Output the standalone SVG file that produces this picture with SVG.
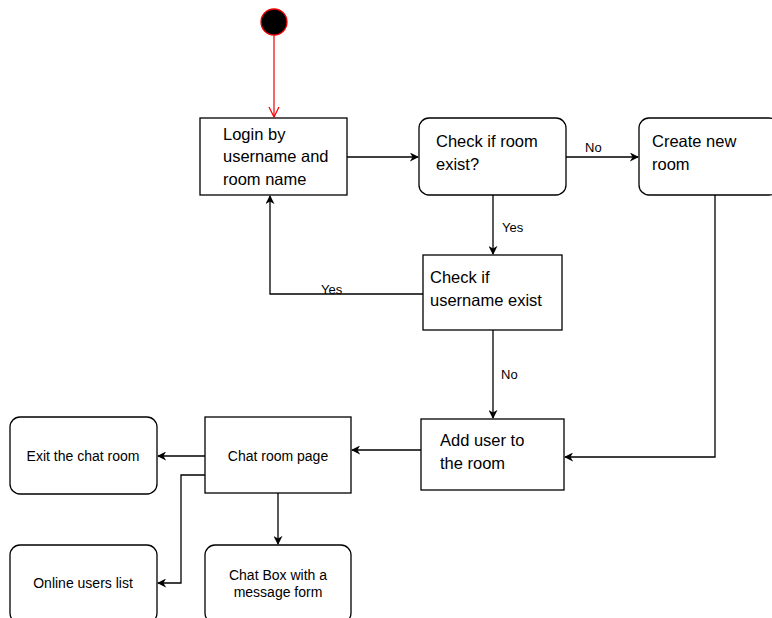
<svg xmlns="http://www.w3.org/2000/svg" width="772" height="618" viewBox="0 0 772 618">
<style>
.box{fill:#fff;stroke:#000;stroke-width:1.3}
.t{font-family:"Liberation Sans",Arial,sans-serif;font-size:16.5px;fill:#000}
.s{font-family:"Liberation Sans",Arial,sans-serif;font-size:14px;fill:#000;text-anchor:middle}
.l{font-family:"Liberation Sans",Arial,sans-serif;font-size:13px;fill:#000}
.c{fill:none;stroke:#000;stroke-width:1.3}
</style>
<defs>
<marker id="a" viewBox="0 0 10 10" refX="9" refY="5" markerWidth="9" markerHeight="9" markerUnits="userSpaceOnUse" orient="auto">
<path d="M0,0 L10,5 L0,10 L3,5 z" fill="#000"/>
</marker>
<marker id="r" viewBox="0 0 12 12" refX="11" refY="6" markerWidth="12" markerHeight="12" markerUnits="userSpaceOnUse" orient="auto">
<path d="M1,1 L11,6 L1,11" fill="none" stroke="#e00" stroke-width="1.2"/>
</marker>
</defs>
<rect width="772" height="618" fill="#fff"/>
<g id="start"><circle cx="274" cy="22" r="13" fill="#000" stroke="#e00" stroke-width="1.3"/></g>
<g id="login"><rect class="box" x="200" y="118" width="147" height="77"/>
<text class="t" x="223" y="140">Login by</text><text class="t" x="223" y="162">username and</text><text class="t" x="223" y="185">room name</text></g>
<g id="checkroom"><rect class="box" x="419" y="118" width="147" height="77" rx="10"/>
<text class="t" x="436" y="147">Check if room</text><text class="t" x="436" y="170">exist?</text></g>
<g id="createroom"><rect class="box" x="639" y="118" width="140" height="77" rx="10"/>
<text class="t" x="652" y="147">Create new</text><text class="t" x="652" y="170">room</text></g>
<g id="checkuser"><rect class="box" x="423" y="255" width="139" height="75"/>
<text class="t" x="430" y="283">Check if</text><text class="t" x="430" y="306">username exist</text></g>
<g id="adduser"><rect class="box" x="421" y="419" width="143" height="71"/>
<text class="t" x="440" y="446">Add user to</text><text class="t" x="440" y="469">the room</text></g>
<g id="chatpage"><rect class="box" x="205" y="417" width="146" height="76"/>
<text class="s" x="278" y="461">Chat room page</text></g>
<g id="exit"><rect class="box" x="10" y="417" width="147" height="77" rx="10"/>
<text class="s" x="83" y="461">Exit the chat room</text></g>
<g id="online"><rect class="box" x="10" y="545" width="147" height="78" rx="10"/>
<text class="s" x="83" y="588">Online users list</text></g>
<g id="chatbox"><rect class="box" x="205" y="545" width="146" height="78" rx="10"/>
<text class="s" x="278" y="580">Chat Box with a</text><text class="s" x="278" y="597">message form</text></g>
<g id="connectors">
<line x1="274" y1="35" x2="274" y2="117" stroke="#e00" stroke-width="1.2" marker-end="url(#r)"/>
<line class="c" x1="347" y1="157" x2="418" y2="157" marker-end="url(#a)"/>
<line class="c" x1="566" y1="157" x2="638" y2="157" marker-end="url(#a)"/>
<text class="l" x="585" y="152">No</text>
<line class="c" x1="493" y1="195" x2="493" y2="254" marker-end="url(#a)"/>
<text class="l" x="502" y="232">Yes</text>
<polyline class="c" points="423,294 270,294 270,196" marker-end="url(#a)"/>
<text class="l" x="321" y="294">Yes</text>
<line class="c" x1="493" y1="330" x2="493" y2="418" marker-end="url(#a)"/>
<text class="l" x="501" y="379">No</text>
<polyline class="c" points="715,195 715,457 565,457" marker-end="url(#a)"/>
<line class="c" x1="421" y1="450" x2="352" y2="450" marker-end="url(#a)"/>
<line class="c" x1="205" y1="456" x2="158" y2="456" marker-end="url(#a)"/>
<polyline class="c" points="205,475 181,475 181,583 158,583" marker-end="url(#a)"/>
<line class="c" x1="278" y1="493" x2="278" y2="544" marker-end="url(#a)"/>
</g>
</svg>
